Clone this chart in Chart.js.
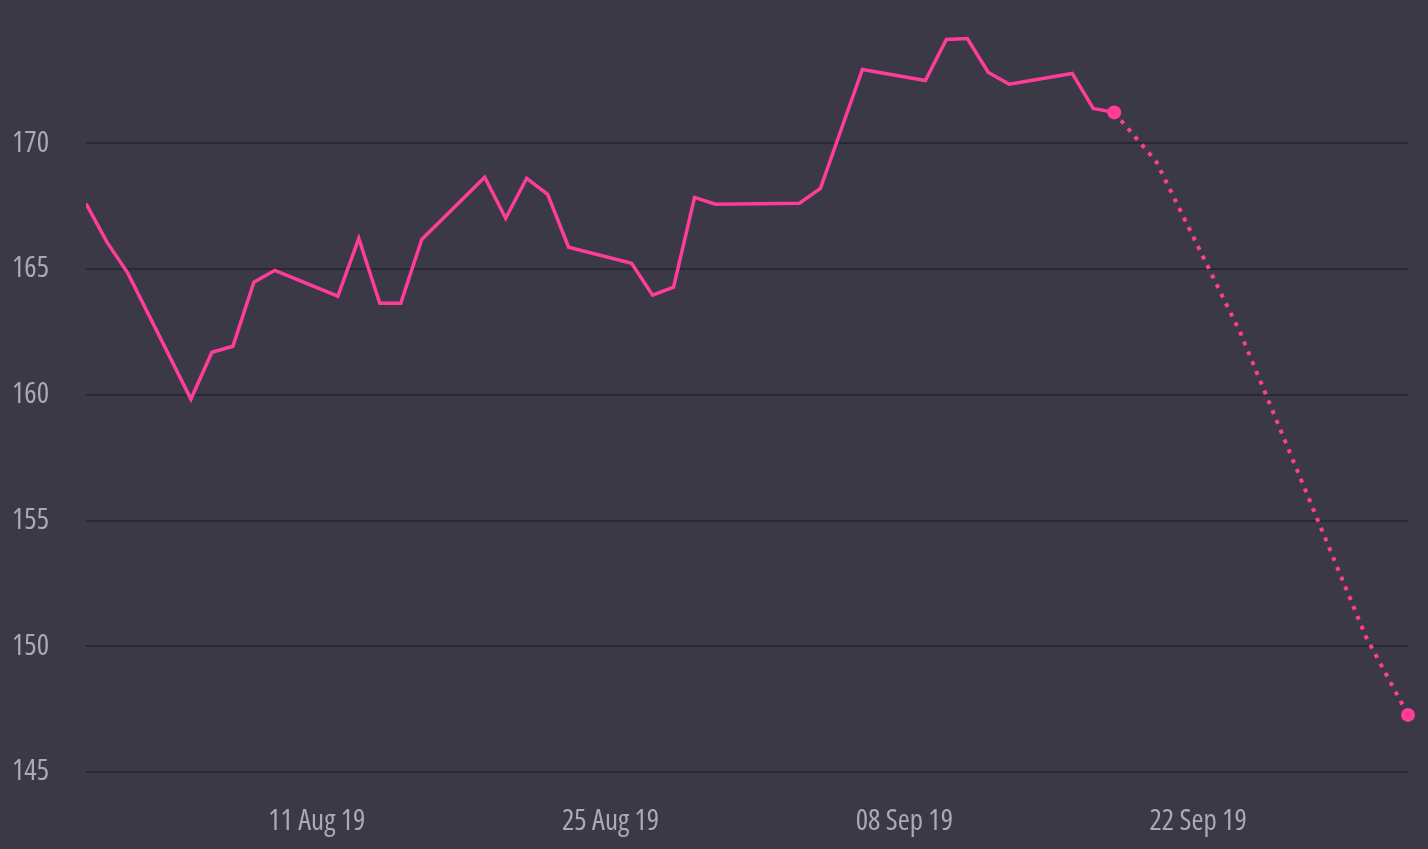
<!DOCTYPE html>
<html>
<head>
<meta charset="utf-8">
<script src="https://cdn.jsdelivr.net/npm/chart.js@4/dist/chart.umd.min.js"></script>
<style>
  html, body { margin: 0; padding: 0; background: #3a3945; }
  #wrap { width: 1428px; height: 849px; position: relative; }
</style>
</head>
<body>
<div id="wrap"><canvas id="chart-main"></canvas></div>
<script>
// days counted from 31 Jul 19 (trading days only)
const days = [0, 1, 2, 5, 6, 7, 8, 9, 12, 13, 14, 15, 16, 19, 20, 21, 22, 23,
  26, 27, 28, 29, 30, 34, 35, 36, 37, 40, 41, 42, 43, 44, 47, 48, 49];
const prices = [167.6, 166.07, 164.83, 159.83, 161.69, 161.93, 164.48, 164.95,
  163.92, 166.22, 163.64, 163.64, 166.18, 168.65, 167.02, 168.61, 167.97, 165.87,
  165.23, 163.96, 164.28, 167.85, 167.58, 167.62, 168.21, 170.58, 172.94, 172.5,
  174.13, 174.17, 172.82, 172.35, 172.78, 171.39, 171.23];

// forecast part (dotted)
const forecastDays = [49, 51, 55, 61, 63];
const forecastPrices = [171.23, 169.28, 162.49, 150.37, 147.27];

// axis ticks
const tickDays = [11, 25, 39, 53];
const tickLabels = ["11 Aug 19", "25 Aug 19", "08 Sep 19", "22 Sep 19"];
const yTicks = [145, 150, 155, 160, 165, 170];

const PINK = "#ff3d98";
// open sans is variable here, "condensed" goes in the weight slot of the font string
const TICK_FONT = { family: '"Open Sans", sans-serif', size: 29, weight: "condensed" };

const toPoints = (xs, ys) => xs.map((x, i) => ({ x: x, y: ys[i] }));

new Chart(document.getElementById("chart-main").getContext("2d"), {
  type: "line",
  data: {
    datasets: [
      {
        data: toPoints(days, prices),
        borderColor: PINK,
        borderWidth: 3.5,
        pointRadius: 0,
        tension: 0,
      },
      {
        data: toPoints(forecastDays, forecastPrices),
        borderColor: PINK,
        backgroundColor: PINK,
        borderWidth: 4,
        borderDash: [4, 6.6],
        pointRadius: (ctx) =>
          ctx.dataIndex === 0 || ctx.dataIndex === forecastDays.length - 1 ? 7 : 0,
        pointBorderWidth: 0,
        tension: 0,
        clip: false,
      },
    ],
  },
  options: {
    responsive: true,
    maintainAspectRatio: false,
    animation: false,
    layout: { padding: { top: 17.6, right: 20, left: 0, bottom: 0 } },
    plugins: { legend: { display: false }, tooltip: { enabled: false } },
    scales: {
      x: {
        type: "linear",
        min: 0,
        max: 63,
        grid: { display: false },
        border: { display: false },
        afterFit: (scale) => { scale.height = 77; },
        afterBuildTicks: (scale) => {
          scale.ticks = tickDays.map((v) => ({ value: v }));
        },
        ticks: {
          autoSkip: false,
          maxRotation: 0,
          padding: 24,
          color: "#aba9b9",
          font: TICK_FONT,
          callback: (value) => tickLabels[tickDays.indexOf(value)],
        },
      },
      y: {
        min: 145,
        max: 175,
        grid: { color: "#2a2931", lineWidth: 2, drawTicks: false },
        border: { display: false },
        // fixed width, and drop the label padding chart.js adds above/below
        afterFit: (scale) => {
          scale.width = 86;
          scale.paddingTop = 0;
          scale.paddingBottom = 0;
        },
        afterBuildTicks: (scale) => {
          scale.ticks = yTicks.map((v) => ({ value: v }));
        },
        ticks: {
          padding: 37,
          color: "#aba9b9",
          font: TICK_FONT,
        },
      },
    },
  },
});
</script>
</body>
</html>
